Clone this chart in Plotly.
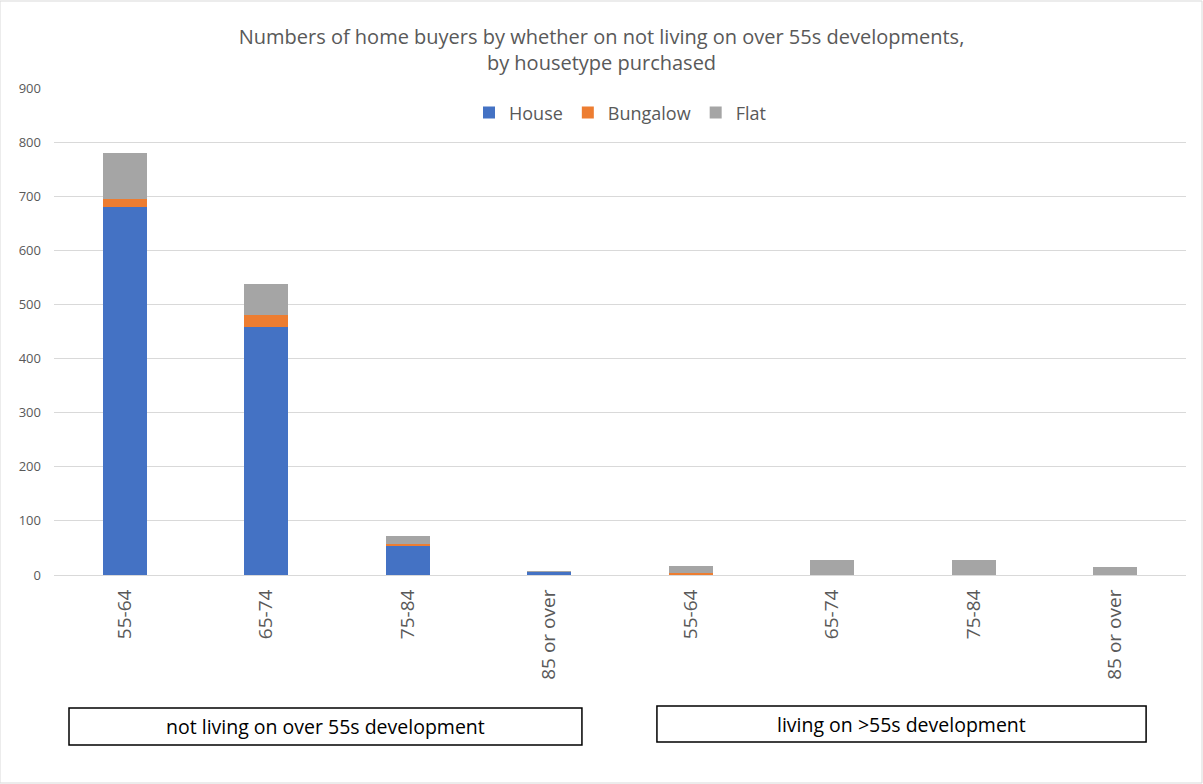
import plotly.graph_objects as go

# Age bands, repeated for each development group
age_bands = ["55-64", "65-74", "75-84", "85 or over",
             "55-64", "65-74", "75-84", "85 or over"]
groups = ["not living on over 55s development", "living on >55s development"]

house = [680, 459, 54, 6, 1, 0, 0, 0]
bungalow = [15, 21, 3, 0, 3, 0, 0, 0]
flat = [85, 58, 15, 1, 13, 27, 27, 15]

y_ticks = [0, 100, 200, 300, 400, 500, 600, 700, 800, 900]

FONT = "Open Sans"
GREY_TXT = "#595959"

x_pos = list(range(len(age_bands)))

fig = go.Figure()
for name, vals, col in [("House", house, "#4472C4"),
                        ("Bungalow", bungalow, "#ED7D31"),
                        ("Flat", flat, "#A5A5A5")]:
    fig.add_trace(go.Bar(x=x_pos, y=vals, name=name, marker_color=col,
                         marker_line_width=0))

fig.update_layout(
    width=1203, height=784,
    barmode="stack", bargap=0.69,
    plot_bgcolor="white", paper_bgcolor="white",
    margin=dict(l=54, r=17, t=88, b=209),
    font=dict(family=FONT, color=GREY_TXT),
    title=dict(text="Numbers of home buyers by whether on not living on over 55s developments,<br>by housetype purchased",
               x=0.5, xanchor="center", y=1 - 44 / 784, yanchor="middle",
               font=dict(size=20, color=GREY_TXT, family=FONT)),
    legend=dict(orientation="h", x=0.5, xanchor="center", y=0.949, yanchor="middle",
                traceorder="normal",
                font=dict(size=18, color=GREY_TXT), itemwidth=30, bgcolor="rgba(0,0,0,0)"),
    xaxis=dict(tickmode="array", tickvals=x_pos, ticktext=age_bands,
               tickangle=-90, tickfont=dict(size=19, color=GREY_TXT),
               range=[-0.5, len(age_bands) - 0.5], showgrid=False,
               showline=True, linecolor="#d9d9d9", linewidth=1,
               ticks="", ticklabelstandoff=6),
    yaxis=dict(range=[0, 900], tickmode="array", tickvals=y_ticks,
               tickfont=dict(size=13, color=GREY_TXT),
               gridcolor="#d9d9d9", gridwidth=1, zeroline=False,
               ticklabelstandoff=12),
)

# Group boxes under the age-band labels
boxes = [(-0.394, 3.231, -0.273, -0.349), (3.761, 7.218, -0.269, -0.343)]
for (x0, x1, y0, y1), label in zip(boxes, groups):
    fig.add_shape(type="rect", xref="x", yref="paper", x0=x0, x1=x1, y0=y0, y1=y1,
                  line=dict(color="black", width=1.5))
    fig.add_annotation(xref="x", yref="paper", x=(x0 + x1) / 2, y=(y0 + y1) / 2,
                       xanchor="center", yanchor="middle",
                       text=label, showarrow=False,
                       font=dict(size=19.5, color="black", family=FONT))

# Chart area border
fig.add_shape(type="rect", xref="paper", yref="paper", x0=-54 / 1132, x1=1 + 16 / 1132,
              y0=-208 / 487, y1=1 + 87 / 487, line=dict(color="#d9d9d9", width=1))

fig.write_html("out.html")
